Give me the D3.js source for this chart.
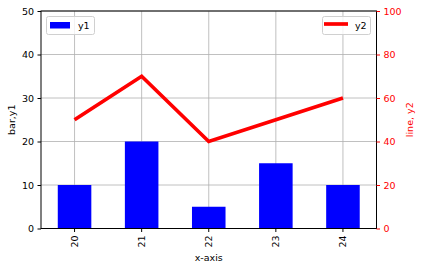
<!DOCTYPE html>
<head>
    <meta charset="utf-8">
    <script src="https://d3js.org/d3.v7.min.js"></script>
    <style>
        body { margin: 0; background: white; font-family: 'DejaVu Sans'; }
        text { font-family: 'DejaVu Sans'; }
    </style>
</head>
<body>
<script>
//DATA
var cats = ['20', '21', '22', '23', '24'];
var y1 = [10, 20, 5, 15, 10];
var y2 = [50, 70, 40, 50, 60];
var leftTicks = [0, 10, 20, 30, 40, 50];
var rightTicks = [0, 20, 40, 60, 80, 100];

//WINDOW
var W = 422, H = 269;
var m = {l: 41, r: 376.5, t: 11, b: 228.5};

var svg = d3.select('body').append('svg')
    .attr('width', W).attr('height', H);

var x = d3.scaleBand().domain(cats).range([m.l, m.r]).paddingInner(0.5).paddingOuter(0.25);
var yL = d3.scaleLinear().domain([0, 50]).range([m.b, m.t]);
var yR = d3.scaleLinear().domain([0, 100]).range([m.b, m.t]);
var cx = d => x(d) + x.bandwidth() / 2;

//GRID
svg.append('g').selectAll('line').data(cats).enter().append('line')
    .attr('x1', cx).attr('x2', cx).attr('y1', m.t).attr('y2', m.b)
    .attr('stroke', '#b0b0b0').attr('stroke-width', 0.8);
svg.append('g').selectAll('line').data(leftTicks).enter().append('line')
    .attr('x1', m.l).attr('x2', m.r).attr('y1', d => yL(d)).attr('y2', d => yL(d))
    .attr('stroke', '#b0b0b0').attr('stroke-width', 0.8);

//BARS
svg.append('g').selectAll('rect').data(y1).enter().append('rect')
    .attr('x', (d, i) => x(cats[i]))
    .attr('width', x.bandwidth())
    .attr('y', d => yL(d))
    .attr('height', d => yL(0) - yL(d))
    .attr('fill', 'blue');

//LINE
svg.append('path')
    .datum(y2)
    .attr('d', d3.line().x((d, i) => cx(cats[i])).y(d => yR(d)))
    .attr('fill', 'none').attr('stroke', 'red').attr('stroke-width', 3.7);

//FRAME
svg.append('rect')
    .attr('x', m.l).attr('y', m.t).attr('width', m.r - m.l).attr('height', m.b - m.t)
    .attr('fill', 'none').attr('stroke', 'black').attr('stroke-width', 1);

//AXES
var ax = svg.append('g').attr('transform', 'translate(0,' + m.b + ')')
    .call(d3.axisBottom(x).tickSize(3.5).tickPadding(3.5));
ax.select('.domain').remove();
ax.selectAll('text')
    .attr('transform', 'rotate(-90)')
    .attr('x', -7).attr('y', 0).attr('dy', '0.35em')
    .style('text-anchor', 'end')
    .attr('font-size', 9.5).attr('fill', 'black');

var al = svg.append('g').attr('transform', 'translate(' + m.l + ',0)')
    .call(d3.axisLeft(yL).tickValues(leftTicks).tickSize(3.5).tickPadding(3.5));
al.select('.domain').remove();
al.selectAll('text').attr('font-size', 9.5).attr('fill', 'black');

var ar = svg.append('g').attr('transform', 'translate(' + m.r + ',0)')
    .call(d3.axisRight(yR).tickValues(rightTicks).tickSize(3.5).tickPadding(3.5));
ar.select('.domain').remove();
ar.selectAll('line').attr('stroke', 'red');
ar.selectAll('text').attr('font-size', 9.5).attr('fill', 'red');

//LABELS
svg.append('text').text('x-axis')
    .attr('x', (m.l + m.r) / 2).attr('y', 261)
    .attr('text-anchor', 'middle').attr('font-size', 9.5);
svg.append('text').text('bar,y1')
    .attr('transform', 'translate(15,' + (m.t + m.b) / 2 + ') rotate(-90)')
    .attr('text-anchor', 'middle').attr('font-size', 9.5);
svg.append('text').text('line, y2')
    .attr('transform', 'translate(413,' + (m.t + m.b) / 2 + ') rotate(-90)')
    .attr('text-anchor', 'middle').attr('font-size', 9.5).attr('fill', 'red');

//LEGENDS
var lg1 = svg.append('g');
lg1.append('rect').attr('x', 46.5).attr('y', 16.5).attr('width', 48).attr('height', 18)
    .attr('rx', 2).attr('fill', 'white').attr('fill-opacity', 0.8).attr('stroke', '#d0d0d0');
lg1.append('rect').attr('x', 50).attr('y', 22).attr('width', 20).attr('height', 6.5).attr('fill', 'blue');
lg1.append('text').text('y1').attr('x', 78).attr('y', 28.5).attr('font-size', 9.5);

var lg2 = svg.append('g');
lg2.append('rect').attr('x', 322.5).attr('y', 16.5).attr('width', 48).attr('height', 18)
    .attr('rx', 2).attr('fill', 'white').attr('fill-opacity', 0.8).attr('stroke', '#d0d0d0');
lg2.append('line').attr('x1', 324).attr('x2', 348).attr('y1', 24).attr('y2', 24)
    .attr('stroke', 'red').attr('stroke-width', 3.7);
lg2.append('text').text('y2').attr('x', 355).attr('y', 28.5).attr('font-size', 9.5);
</script>
</body>
